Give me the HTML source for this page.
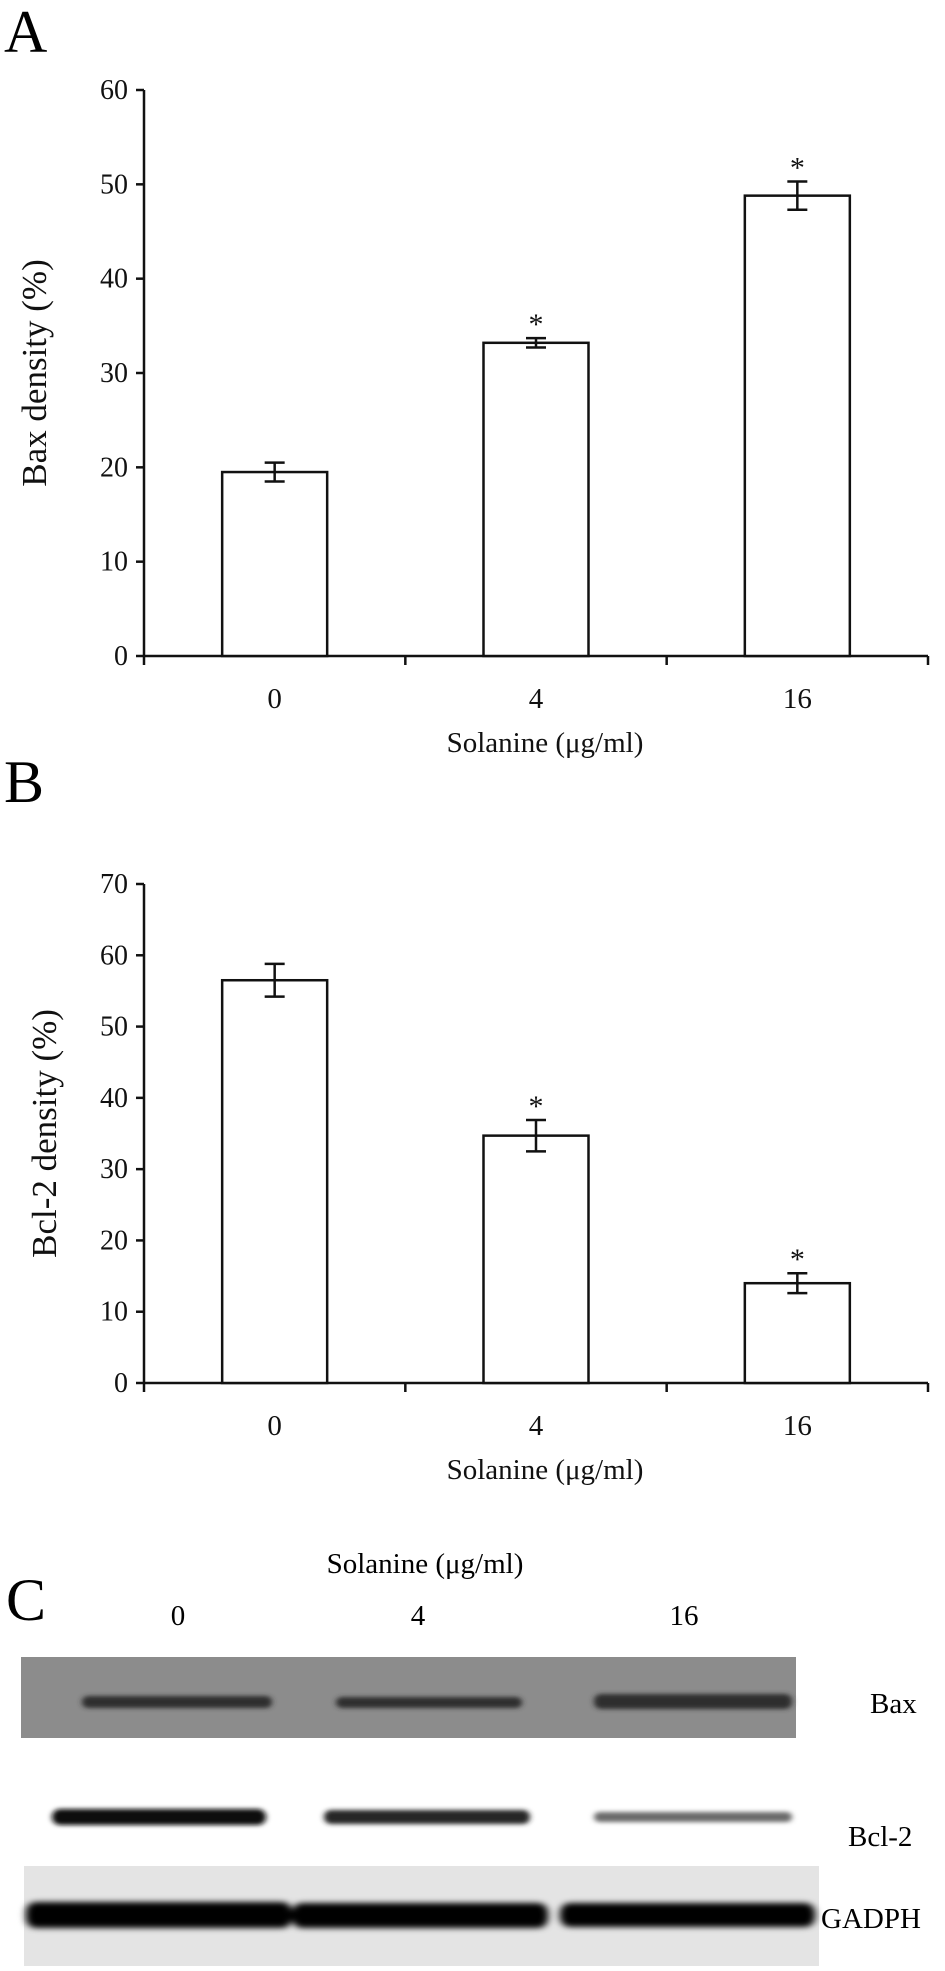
<!DOCTYPE html>
<html><head><meta charset="utf-8">
<style>
html,body{margin:0;padding:0;background:#fff;}
svg{display:block;font-family:"Liberation Serif","DejaVu Serif",serif;}
</style></head>
<body>
<svg id="fig" width="945" height="1971" viewBox="0 0 945 1971" xmlns="http://www.w3.org/2000/svg">
<defs>
  <filter id="blur3" x="-10%" y="-100%" width="120%" height="300%"><feGaussianBlur stdDeviation="4 3"/></filter>
  <filter id="blur2" x="-10%" y="-100%" width="120%" height="300%"><feGaussianBlur stdDeviation="3 2"/></filter>
</defs>
<text x="4" y="52" font-size="60">A</text>
<g id="chartA"></g>
<text x="4" y="802" font-size="60">B</text>
<g id="chartB"></g>

<g>
  <text x="6" y="1620" font-size="60">C</text>
  <text x="425" y="1573" font-size="29" text-anchor="middle">Solanine (μg/ml)</text>
  <text x="178" y="1625" font-size="29" text-anchor="middle">0</text>
  <text x="418" y="1625" font-size="29" text-anchor="middle">4</text>
  <text x="684" y="1625" font-size="29" text-anchor="middle">16</text>

  <rect x="21" y="1657" width="775" height="81" fill="#8c8c8c"/>
  <g filter="url(#blur2)" fill="#2e2e2e">
    <rect x="82" y="1696" width="190" height="12" rx="6"/>
    <rect x="336" y="1697" width="186" height="11" rx="6"/>
    <rect x="594" y="1694" width="198" height="15" rx="7"/>
  </g>
  <text x="870" y="1713" font-size="29">Bax</text>

  <g filter="url(#blur2)">
    <rect x="52" y="1809" width="214" height="16" rx="8" fill="#111"/>
    <rect x="324" y="1810" width="206" height="14" rx="7" fill="#262626"/>
    <rect x="594" y="1812" width="198" height="10" rx="5" fill="#6a6a6a"/>
  </g>
  <text x="848" y="1846" font-size="29">Bcl-2</text>

  <rect x="24" y="1866" width="795" height="100" fill="#e4e4e4"/>
  <g filter="url(#blur3)" fill="#050505">
    <rect x="26" y="1902" width="266" height="26" rx="10"/>
    <rect x="292" y="1903" width="256" height="25" rx="10"/>
    <rect x="560" y="1903" width="255" height="24" rx="10"/>
  </g>
  <text x="821" y="1928" font-size="29">GADPH</text>
</g>
</svg>
<script>
// Chart A data
const catsA = ["0", "4", "16"];
const valsA = [19.5, 33.2, 48.8];
const errsA = [1.0, 0.5, 1.5];
const sigA = [false, true, true];
const ticksA = [0, 10, 20, 30, 40, 50, 60];
// Chart B data
const catsB = ["0", "4", "16"];
const valsB = [56.5, 34.7, 14.0];
const errsB = [2.3, 2.2, 1.4];
const sigB = [false, true, true];
const ticksB = [0, 10, 20, 30, 40, 50, 60, 70];

const NS = "http://www.w3.org/2000/svg";
function mk(parent, tag, attrs, text) {
  const e = document.createElementNS(NS, tag);
  for (const k in attrs) e.setAttribute(k, attrs[k]);
  if (text !== undefined) e.textContent = text;
  parent.appendChild(e);
  return e;
}

function drawChart(g, cfg, cats, vals, errs, sig, ticks, ytitle) {
  const x0 = 144, x1 = 928;
  const yMax = ticks[ticks.length - 1];
  const y = v => cfg.yBottom - (v / yMax) * (cfg.yBottom - cfg.yTop);
  const band = (x1 - x0) / cats.length;
  const xc = i => x0 + band * (i + 0.5);
  const bw = 105;
  const stroke = {stroke: "#111", "stroke-width": 2.5, fill: "none"};

  const yax = mk(g, "line", Object.assign({x1: x0, y1: y(yMax), x2: x0, y2: cfg.yBottom}, stroke));
  
  
  ticks.forEach(t => {
    const tl = mk(g, "line", Object.assign({x1: x0 - 8, y1: y(t), x2: x0, y2: y(t)}, stroke));
    
    
    const tx = mk(g, "text", {x: x0 - 16, y: y(t) + 9, "font-size": 28, "text-anchor": "end", fill: "#111"}, String(t));
    
    
  });
  const xax = mk(g, "line", Object.assign({x1: x0, y1: cfg.yBottom, x2: x1, y2: cfg.yBottom}, stroke));
  
  
  for (let i = 0; i <= cats.length; i++) {
    const xt = x0 + band * i;
    const tk = mk(g, "line", Object.assign({x1: xt, y1: cfg.yBottom, x2: xt, y2: cfg.yBottom + 9}, stroke));
    
    
  }
  cats.forEach((c, i) => {
    const b = mk(g, "rect", {x: xc(i) - bw / 2, y: y(vals[i]), width: bw, height: cfg.yBottom - y(vals[i]), fill: "#fff", stroke: "#111", "stroke-width": 2.5});
    
    
    const top = y(vals[i] + errs[i]), bot = y(vals[i] - errs[i]);
    const eb = mk(g, "path", {d: `M${xc(i)} ${top}V${bot}M${xc(i) - 10} ${top}H${xc(i) + 10}M${xc(i) - 10} ${bot}H${xc(i) + 10}`, stroke: "#111", "stroke-width": 2.5, fill: "none"});
    
    
    if (sig[i]) {
      const s = mk(g, "text", {x: xc(i), y: top - 4, "font-size": 30, "text-anchor": "middle", fill: "#111"}, "*");
      
      
    }
    const xl = mk(g, "text", {x: xc(i), y: cfg.yBottom + 52, "font-size": 29, "text-anchor": "middle", fill: "#111"}, c);
    
    
  });
  const xt = mk(g, "text", {x: 545, y: cfg.yBottom + 96, "font-size": 29, "text-anchor": "middle", fill: "#111"}, "Solanine (μg/ml)");
  
  
  const cy = (y(yMax) + cfg.yBottom) / 2;
  const yt = mk(g, "text", {x: 0, y: 0, "font-size": 35, "text-anchor": "middle", fill: "#111", transform: `translate(${cfg.titleX},${cy}) rotate(-90)`}, ytitle);
  
  
}

drawChart(document.getElementById("chartA"), {yTop: 90, yBottom: 656, titleX: 46}, catsA, valsA, errsA, sigA, ticksA, "Bax density (%)");
drawChart(document.getElementById("chartB"), {yTop: 884, yBottom: 1383, titleX: 56}, catsB, valsB, errsB, sigB, ticksB, "Bcl-2 density (%)");
</script>
</body></html>
